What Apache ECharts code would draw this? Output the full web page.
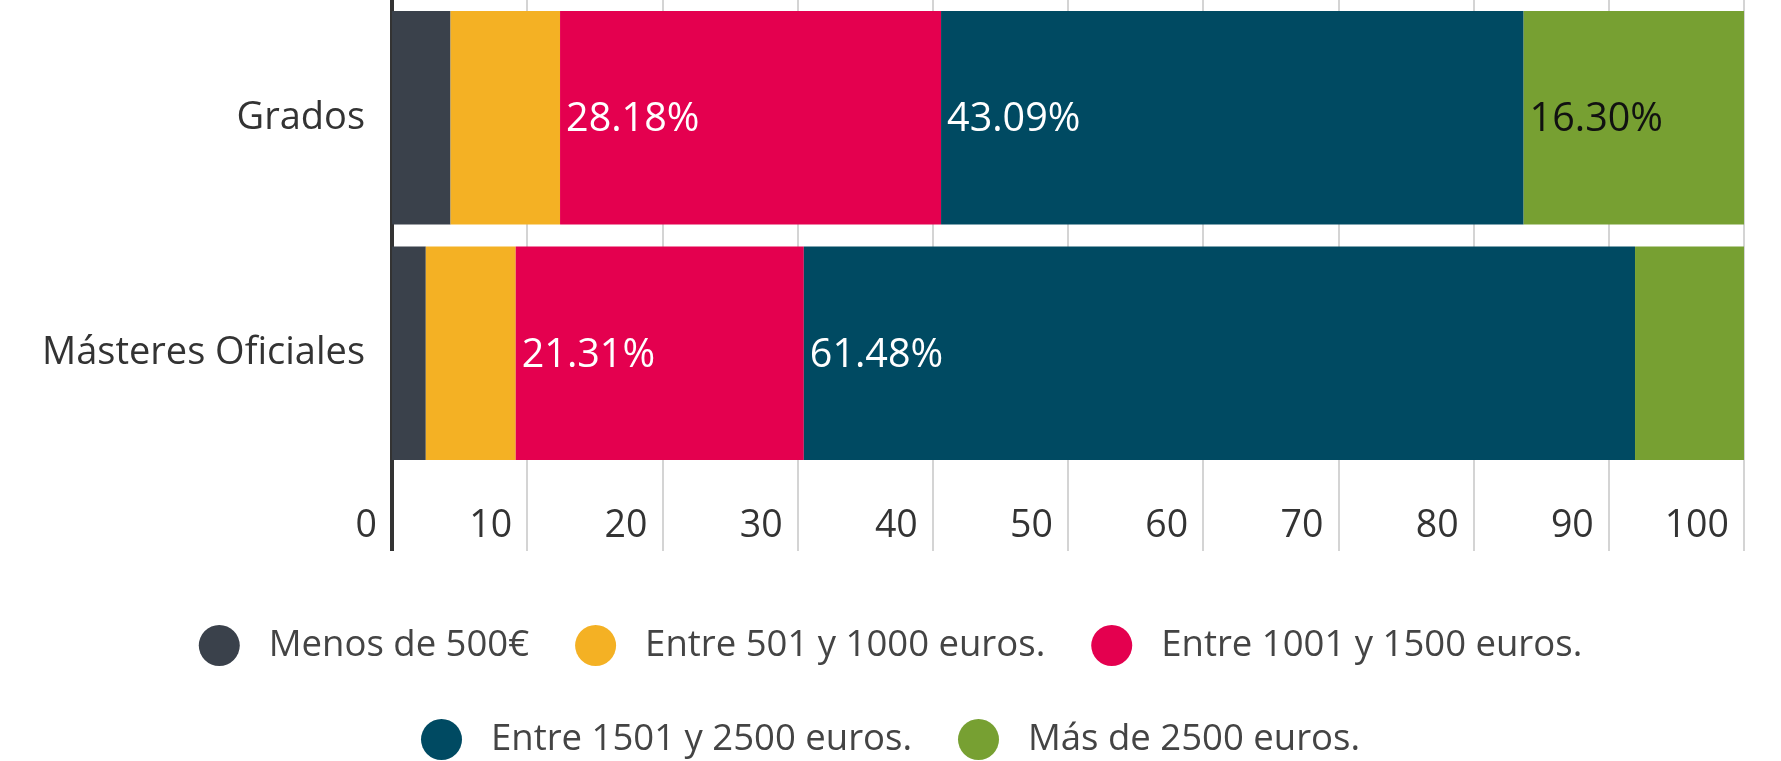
<!DOCTYPE html>
<html>
<head>
<meta charset="utf-8">
<script src="https://cdn.jsdelivr.net/npm/echarts@6/dist/echarts.min.js"></script>
<style>
html,body{margin:0;padding:0;background:#fff;}
#chart{width:1781px;height:761px;}
</style>
</head>
<body>
<div id="chart"></div>
<script>
const categories = ['Grados', 'Másteres Oficiales'];
const seriesNames = ['Menos de 500€', 'Entre 501 y 1000 euros.', 'Entre 1001 y 1500 euros.', 'Entre 1501 y 2500 euros.', 'Más de 2500 euros.'];
const menos500 = [4.33, 2.50];
const entre501y1000 = [8.10, 6.65];
const entre1001y1500 = [28.18, 21.31];
const entre1501y2500 = [43.09, 61.48];
const mas2500 = [16.30, 8.06];
const seriesValues = [menos500, entre501y1000, entre1001y1500, entre1501y2500, mas2500];
const colors = ['#3a414b', '#f4b124', '#e4004f', '#004a62', '#77a032'];
const labelColors = ['#ffffff', '#ffffff', '#ffffff', '#ffffff', '#111111'];
const FONT = '"Open Sans", "Noto Sans", sans-serif';

const chart = echarts.init(document.getElementById('chart'), null, {renderer: 'canvas'});

const series = seriesValues.map((vals, i) => ({
  name: seriesNames[i],
  type: 'bar',
  stack: 'total',
  xAxisIndex: 0,
  data: vals,
  barCategoryGap: '9.3%',
  itemStyle: {color: colors[i]},
  emphasis: {disabled: true},
  label: {
    show: true,
    position: 'insideLeft',
    distance: 6,
    offset: [0, 2],
    fontFamily: FONT,
    fontSize: 39.5,
    color: labelColors[i],
    formatter: p => (p.value >= 10 ? p.value.toFixed(2) + '%' : '')
  }
}));

const legendCommon = {
  icon: 'circle',
  itemWidth: 41,
  itemHeight: 41,
  itemGap: 46,
  left: 'center',
  selectedMode: false,
  textStyle: {fontFamily: FONT, fontSize: 36.5, color: '#444', padding: [0, 0, 0, 24]}
};

chart.setOption({
  animation: false,
  color: colors,
  grid: {left: 392, right: 37, top: 0, bottom: 290, containLabel: false},
  legend: [
    Object.assign({}, legendCommon, {top: 620, data: seriesNames.slice(0, 3)}),
    Object.assign({}, legendCommon, {top: 714, data: seriesNames.slice(3)})
  ],
  xAxis: [{
    type: 'value',
    min: 0,
    max: 100,
    interval: 10,
    axisLine: {show: false},
    axisTick: {show: true, length: 80, lineStyle: {color: '#d4d4d4', width: 2}},
    splitLine: {show: true, lineStyle: {color: '#d4d4d4', width: 2}},
    axisLabel: {
      fontFamily: FONT, fontSize: 37.5, color: '#333',
      align: 'right', margin: 36, padding: [0, 15, 0, 0]
    }
  }, {
    type: 'value',
    min: 0,
    max: 100,
    interval: 100,
    position: 'bottom',
    axisLine: {show: false},
    splitLine: {show: false},
    axisLabel: {show: false},
    axisTick: {show: true, customValues: [0], length: 80, lineStyle: {color: '#333', width: 4}}
  }],
  yAxis: {
    type: 'category',
    data: categories,
    inverse: true,
    axisLine: {show: true, lineStyle: {color: '#333', width: 4}},
    axisTick: {show: false},
    axisLabel: {fontFamily: FONT, fontSize: 38, color: '#333', margin: 27, padding: [10, 0, 0, 0]}
  },
  series: series
});
</script>
</body>
</html>
